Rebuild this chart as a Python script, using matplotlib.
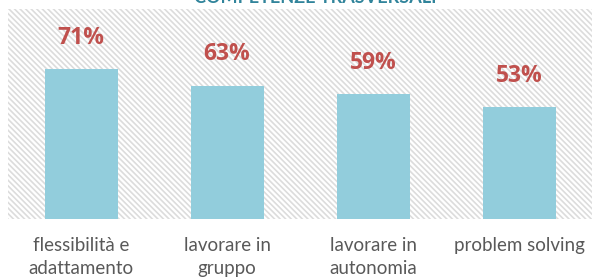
import matplotlib.pyplot as plt
from matplotlib.patches import Rectangle

# dati
categorie = ["flessibilità e\nadattamento", "lavorare in\ngruppo", "lavorare in\nautonomia", "problem solving"]
valori = [71, 63, 59, 53]
titolo = "COMPETENZE TRASVERSALI"

plt.rcParams['font.family'] = 'Lato'
plt.rcParams['hatch.linewidth'] = 1.2

fig = plt.figure(figsize=(5.94, 2.80), dpi=100)
ax = fig.add_axes([8/594, 1 - 219/280, 584/594, 210/280])

# sfondo tratteggiato
sfondo = Rectangle((0, 0), 1, 1, transform=ax.transAxes, facecolor='white',
                   edgecolor='#dcdcdc', hatch='\\' * 6, linewidth=0, zorder=0)
ax.add_patch(sfondo)

x = range(len(categorie))
barre = ax.bar(x, valori, width=0.5, color='#92cddc', zorder=2)

for xi, v in zip(x, valori):
    ax.annotate(f"{v}%", (xi, v), xytext=(0, 14), textcoords='offset points',
                ha='center', va='bottom', fontsize=16.5, fontweight='bold',
                family='Open Sans', color='#c0504d')

# etichette delle categorie, una riga alla volta
for xi, cat in zip(x, categorie):
    for i, riga in enumerate(cat.split("\n")):
        ax.annotate(riga, (xi, 0), xycoords=('data', 'axes fraction'),
                    xytext=(0, -13 - i * 16.5), textcoords='offset points',
                    ha='center', va='top', fontsize=13.5, color='#595959',
                    annotation_clip=False)

ax.set_xlim(-0.5, 3.5)
ax.set_ylim(0, 99.4)
ax.set_xticks([])
ax.set_yticks([])
for s in ax.spines.values():
    s.set_visible(False)

# titolo tagliato in alto come nell'originale
fig.text(315/594, 1 - 3/280, titolo, ha='center', va='baseline', fontsize=13,
         fontweight='bold', color='#31849b')

fig.savefig("out.png", dpi=100)
